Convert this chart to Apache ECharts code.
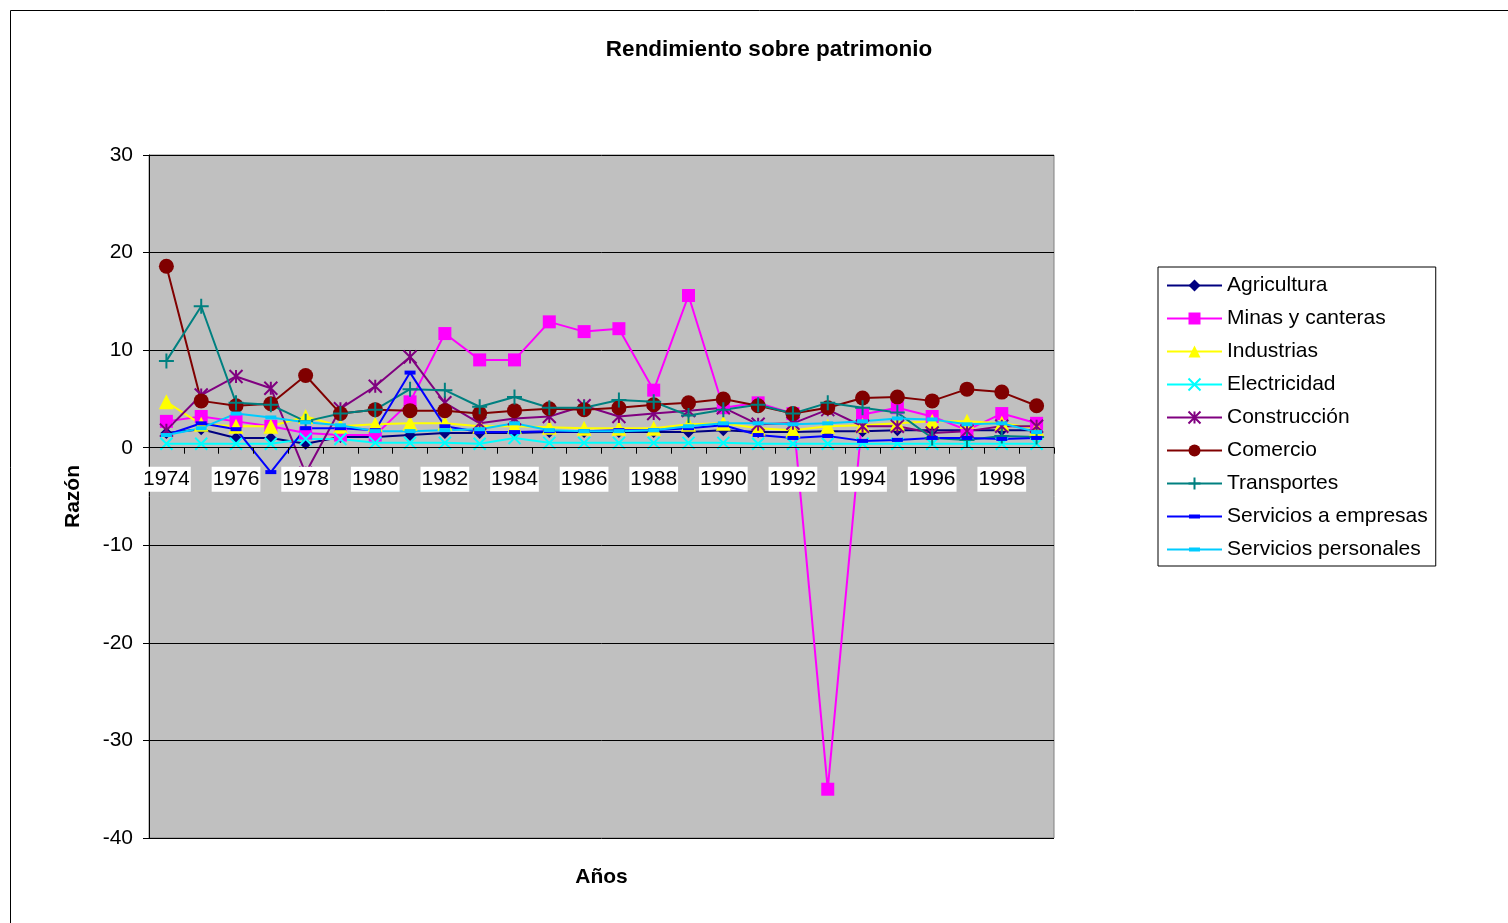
<!DOCTYPE html>
<html>
<head>
<meta charset="utf-8">
<script src="https://cdn.jsdelivr.net/npm/echarts@6/dist/echarts.min.js"></script>
<style>
html,body{margin:0;padding:0;background:#fff;}
#chart{width:1508px;height:923px;}
</style>
</head>
<body>
<div id="chart"></div>
<script>
var years = ['1974','1975','1976','1977','1978','1979','1980','1981','1982','1983','1984','1985','1986','1987','1988','1989','1990','1991','1992','1993','1994','1995','1996','1997','1998','1999'];
var yTicks = { min: -40, max: 30, interval: 10 };

var agricultura = [1.5, 1.9, 1.0, 1.0, 0.4, 1.1, 1.1, 1.3, 1.5, 1.5, 1.5, 1.6, 1.6, 1.6, 1.6, 1.6, 1.8, 1.6, 1.6, 1.7, 1.7, 1.8, 1.8, 1.8, 1.8, 1.8];
var minas = [2.7, 3.2, 2.7, 2.2, 1.5, 1.3, 1.3, 4.7, 11.7, 9.0, 9.0, 12.9, 11.9, 12.2, 5.9, 15.6, 4.1, 4.6, 3.5, -35.0, 3.4, 4.1, 3.2, 1.8, 3.5, 2.5];
var industrias = [4.7, 2.4, 2.2, 2.2, 3.2, 2.2, 2.4, 2.5, 2.5, 2.2, 2.2, 2.1, 2.0, 2.0, 2.0, 2.4, 2.5, 2.0, 1.8, 2.2, 2.3, 2.5, 2.7, 2.7, 2.5, 2.0];
var electricidad = [0.4, 0.4, 0.4, 0.4, 0.9, 0.9, 0.5, 0.5, 0.5, 0.4, 1.0, 0.5, 0.5, 0.5, 0.5, 0.5, 0.5, 0.4, 0.4, 0.4, 0.4, 0.4, 0.4, 0.4, 0.4, 0.4];
var construccion = [1.8, 5.4, 7.3, 6.1, -2.6, 4.0, 6.3, 9.3, 4.6, 2.5, 3.0, 3.2, 4.3, 3.2, 3.5, 3.8, 4.1, 2.4, 2.5, 3.9, 2.2, 2.2, 1.5, 1.7, 2.2, 2.2];
var comercio = [18.6, 4.8, 4.3, 4.5, 7.4, 3.5, 3.9, 3.8, 3.8, 3.5, 3.8, 4.0, 3.9, 4.1, 4.4, 4.6, 5.0, 4.3, 3.5, 4.1, 5.1, 5.2, 4.8, 6.0, 5.7, 4.3];
var transportes = [8.9, 14.5, 4.6, 4.4, 2.7, 3.5, 3.9, 6.0, 5.9, 4.2, 5.2, 4.1, 4.1, 4.9, 4.7, 3.3, 3.9, 4.4, 3.5, 4.6, 4.1, 3.6, 1.0, 0.8, 1.2, 1.1];
var serviciosEmpresas = [1.3, 2.5, 1.9, -2.5, 2.0, 2.0, 1.8, 7.7, 2.2, 1.6, 1.6, 1.7, 1.7, 1.8, 1.8, 2.0, 2.3, 1.3, 1.0, 1.2, 0.7, 0.8, 1.0, 1.0, 0.9, 1.0];
var serviciosPersonales = [1.3, 2.0, 3.5, 3.1, 2.6, 2.3, 1.7, 1.7, 1.8, 1.9, 2.5, 1.8, 1.7, 1.7, 1.8, 2.2, 2.5, 2.5, 2.4, 2.5, 2.7, 3.0, 2.9, 2.4, 2.5, 1.6];

var FONT = 'Liberation Sans, Arial, sans-serif';

var SYM_X = 'path://M0,0 L10,10 M10,0 L0,10';
var SYM_STAR = 'path://M0,0 L10,10 M10,0 L0,10 M5,0 L5,10';
var SYM_PLUS = 'path://M5,0 L5,10 M0,5 L10,5';
var SYM_DASH = 'path://M0,0 L10,0 L10,3 L0,3 Z';
var LEG_DASH = 'path://M0,6.5 L55,6.5 L55,8.5 L0,8.5 Z M22,5.5 L33,5.5 L33,9.5 L22,9.5 Z';

function mk(name, data, color, symbol, size, strokeOnly, symH) {
  return {
    name: name,
    type: 'line',
    data: data,
    symbol: symbol,
    symbolSize: symH ? [size, symH] : size,
    showAllSymbol: true,
    lineStyle: { color: color, width: 2 },
    itemStyle: strokeOnly ? { color: 'rgba(0,0,0,0)', borderColor: color, borderWidth: 2 } : { color: color, borderWidth: 0 },
    emphasis: { disabled: true },
    animation: false
  };
}

var series = [
  mk('Agricultura', agricultura, '#000080', 'diamond', 12),
  mk('Minas y canteras', minas, '#FF00FF', 'rect', 13),
  mk('Industrias', industrias, '#FFFF00', 'triangle', 15),
  mk('Electricidad', electricidad, '#00FFFF', SYM_X, 12, true),
  mk('Construcción', construccion, '#800080', SYM_STAR, 13, true),
  mk('Comercio', comercio, '#800000', 'circle', 15),
  mk('Transportes', transportes, '#008080', SYM_PLUS, 15, true),
  mk('Servicios a empresas', serviciosEmpresas, '#0000FF', SYM_DASH, 11, false, 4),
  mk('Servicios personales', serviciosPersonales, '#00CCFF', SYM_DASH, 11, false, 4)
];

var legendData = series.map(function (s) {
  if (s.symbol === SYM_DASH) {
    return { name: s.name, icon: LEG_DASH, itemStyle: { color: s.lineStyle.color } };
  }
  return { name: s.name };
});

// pixel geometry of the plot box
var GRID_TOP = 155, GRID_BOTTOM_PX = 838;
var zeroOffset = -(GRID_BOTTOM_PX - (GRID_TOP + (GRID_BOTTOM_PX - GRID_TOP) * yTicks.max / (yTicks.max - yTicks.min)));

var chart = echarts.init(document.getElementById('chart'), null, { renderer: 'canvas' });
chart.setOption({
  backgroundColor: '#ffffff',
  animation: false,
  textStyle: { fontFamily: FONT },
  color: ['#000080','#FF00FF','#FFFF00','#00FFFF','#800080','#800000','#008080','#0000FF','#00CCFF'],
  title: {
    text: 'Rendimiento sobre patrimonio',
    left: 764,
    top: 33,
    textAlign: 'center',
    textStyle: { fontFamily: FONT, fontSize: 22.5, fontWeight: 'bold', color: '#000' }
  },
  graphic: [{
    type: 'rect',
    shape: { x: 10.5, y: 10.5, width: 1600, height: 1000 },
    style: { fill: 'none', stroke: '#000', lineWidth: 1 },
    silent: true, z: -1
  }],
  legend: {
    orient: 'vertical',
    left: 1158,
    top: 267,
    padding: [8, 8, 6, 8],
    itemGap: 12,
    itemWidth: 55,
    itemHeight: 15,
    borderColor: '#000',
    borderWidth: 1,
    backgroundColor: '#fff',
    textStyle: { fontFamily: FONT, fontSize: 21, color: '#000' },
    data: legendData
  },
  grid: {
    left: 149, top: GRID_TOP, right: 454, bottom: 923 - GRID_BOTTOM_PX,
    show: true, backgroundColor: '#C0C0C0', borderColor: '#808080', borderWidth: 1,
    containLabel: false,
    outerBoundsMode: 'none'
  },
  xAxis: {
    type: 'category',
    data: years,
    boundaryGap: true,
    offset: zeroOffset,
    z: 10,
    axisLine: { onZero: false, lineStyle: { color: '#000', width: 1 } },
    axisTick: { show: true, interval: 0, length: 6, inside: false, lineStyle: { color: '#000' } },
    axisLabel: {
      interval: 1, margin: 19, fontSize: 21, color: '#000', fontFamily: FONT,
      backgroundColor: '#fff', padding: [2, 1, 2, 1]
    },
    splitLine: { show: false },
    name: 'Años',
    nameLocation: 'middle',
    nameGap: 419,
    nameTextStyle: { fontFamily: FONT, fontSize: 21, fontWeight: 'bold', color: '#000' }
  },
  yAxis: {
    type: 'value',
    min: yTicks.min, max: yTicks.max, interval: yTicks.interval,
    axisLine: { show: true, onZero: false, lineStyle: { color: '#000' } },
    axisTick: { show: true, length: 6, lineStyle: { color: '#000' } },
    axisLabel: { margin: 16, fontSize: 21, color: '#000', fontFamily: FONT },
    splitLine: { show: true, lineStyle: { color: '#000', width: 1 } },
    name: 'Razón',
    nameLocation: 'middle',
    nameGap: 65,
    nameRotate: 90,
    nameTextStyle: { fontFamily: FONT, fontSize: 21, fontWeight: 'bold', color: '#000' }
  },
  series: series
});
</script>
</body>
</html>
